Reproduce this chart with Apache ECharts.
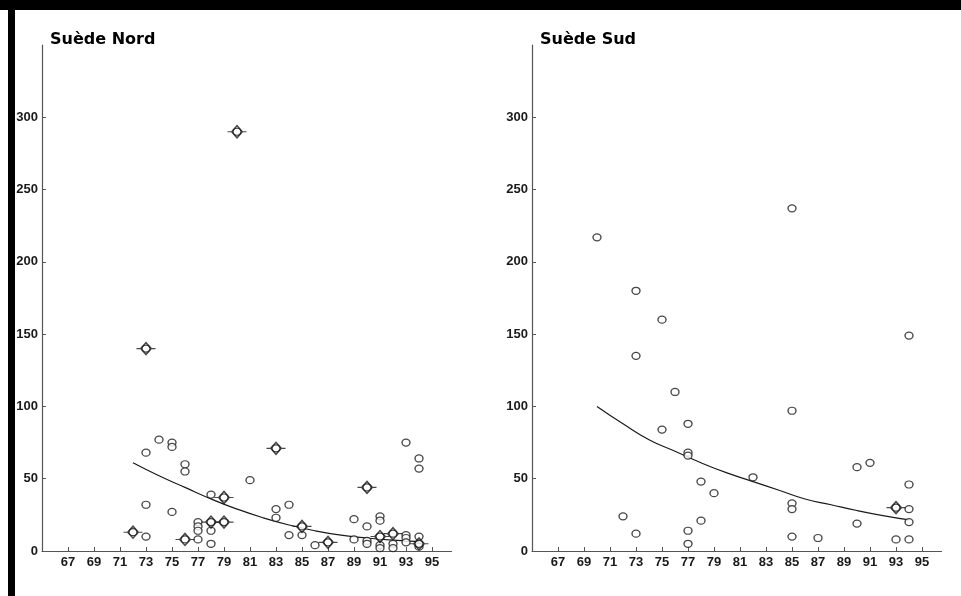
<!DOCTYPE html>
<html>
<head>
<meta charset="utf-8">
<script src="https://cdn.jsdelivr.net/npm/echarts@6/dist/echarts.min.js"></script>
<style>
  html, body { margin: 0; padding: 0; background: #fff; }
  #chart { width: 961px; height: 596px; }
</style>
</head>
<body>
<div id="chart"></div>
<script>
const panelTitles = ["Suède Nord", "Suède Sud"];
const yearTicks = [67, 69, 71, 73, 75, 77, 79, 81, 83, 85, 87, 89, 91, 93, 95];
const valueTicks = [0, 50, 100, 150, 200, 250, 300];

// Suède Nord: plain observations [year, value]
const nordCircles = [
  [73, 68], [73, 32], [73, 10], [74, 77], [75, 75], [75, 72], [75, 27],
  [76, 60], [76, 55], [77, 20], [77, 17], [77, 14], [77, 8],
  [78, 39], [78, 14], [78, 5], [81, 49], [83, 29], [83, 23],
  [84, 32], [84, 11], [85, 11], [86, 4], [89, 22], [89, 8],
  [90, 17], [90, 7], [90, 5], [91, 24], [91, 21], [91, 4], [91, 2],
  [92, 5], [92, 2], [93, 75], [93, 11], [93, 9], [93, 6],
  [94, 64], [94, 57], [94, 10], [94, 3]
];
// Suède Nord: flagged observations (diamonds)
const nordDiamonds = [
  [72, 13], [73, 140], [76, 8], [78, 20], [79, 37], [79, 20], [80, 290],
  [83, 71], [85, 17], [87, 6], [90, 44], [91, 10], [92, 12], [94, 5]
];
// Suède Nord: fitted trend
const nordTrend = [
  [72, 61], [74, 52], [76, 44], [78, 36], [80, 29], [82, 23], [84, 18],
  [86, 14], [88, 11], [90, 9], [92, 7.5], [94, 6.5]
];

// Suède Sud
const sudCircles = [
  [70, 217], [72, 24], [73, 180], [73, 135], [73, 12], [75, 160], [75, 84],
  [76, 110], [77, 88], [77, 68], [77, 66], [77, 14], [77, 5],
  [78, 48], [78, 21], [79, 40], [82, 51], [85, 237], [85, 97],
  [85, 33], [85, 29], [85, 10], [87, 9], [90, 58], [90, 19], [91, 61],
  [93, 8], [94, 149], [94, 46], [94, 29], [94, 20], [94, 8]
];
const sudDiamonds = [[93, 30]];
const sudTrend = [
  [70, 100], [72, 88], [74, 77], [76, 69], [78, 61], [80, 54], [82, 48],
  [84, 42], [86, 36], [88, 32], [90, 28], [92, 24.5], [94, 21.5]
];

const chart = echarts.init(document.getElementById("chart"), null, { renderer: "canvas" });

const ink = "#1a1a1a";
const diamondPath = "path://M-4,5 L0,5 L5,0 L10,5 L14,5 M10,5 L5,10 L0,5";

function makeXAxis(gridIndex) {
  return {
    gridIndex: gridIndex,
    type: "value",
    min: 65,
    max: 96.5,
    splitLine: { show: false },
    axisLine: { show: true, onZero: false, lineStyle: { color: "#555", width: 1.2 } },
    axisTick: { show: true, inside: true, length: 4, customValues: yearTicks, lineStyle: { color: "#555" } },
    axisLabel: {
      customValues: yearTicks,
      margin: 5,
      color: ink,
      fontFamily: "Liberation Sans",
      fontWeight: "bold",
      fontSize: 13,
    },
  };
}

function makeYAxis(gridIndex) {
  return {
    gridIndex: gridIndex,
    type: "value",
    min: 0,
    max: 350,
    splitLine: { show: false },
    axisLine: { show: true, lineStyle: { color: "#555", width: 1.2 } },
    axisTick: { show: true, inside: true, length: 4, customValues: valueTicks, lineStyle: { color: "#555" } },
    axisLabel: {
      customValues: valueTicks,
      margin: 4,
      color: ink,
      fontFamily: "Liberation Sans",
      fontWeight: "bold",
      fontSize: 13,
    },
  };
}

function panelSeries(i, circles, diamonds, trend) {
  return [
    {
      type: "line",
      xAxisIndex: i,
      yAxisIndex: i,
      data: trend,
      smooth: true,
      showSymbol: false,
      lineStyle: { color: ink, width: 1.2 },
      z: 2,
    },
    {
      type: "scatter",
      xAxisIndex: i,
      yAxisIndex: i,
      data: circles.concat(diamonds),
      symbol: "circle",
      symbolSize: [8, 7],
      itemStyle: { color: "#fff", borderColor: ink, borderWidth: 1.3 },
      z: 3,
    },
    {
      type: "scatter",
      xAxisIndex: i,
      yAxisIndex: i,
      data: diamonds,
      symbol: diamondPath,
      symbolSize: [19, 12],
      symbolKeepAspect: false,
      itemStyle: { color: "transparent", borderColor: ink, borderWidth: 1.4 },
      z: 4,
    },
  ];
}

const option = {
  backgroundColor: "#fff",
  animation: false,
  title: [
    {
      text: panelTitles[0],
      left: 45,
      top: 27,
      textStyle: { fontFamily: "DejaVu Sans", fontWeight: "bold", fontSize: 16, color: "#000" },
    },
    {
      text: panelTitles[1],
      left: 535,
      top: 27,
      textStyle: { fontFamily: "DejaVu Sans", fontWeight: "bold", fontSize: 16, color: "#000" },
    },
  ],
  grid: [
    { left: 42, top: 45, width: 409.5, height: 506, containLabel: false },
    { left: 532, top: 45, width: 409.5, height: 506, containLabel: false },
  ],
  xAxis: [makeXAxis(0), makeXAxis(1)],
  yAxis: [makeYAxis(0), makeYAxis(1)],
  series: panelSeries(0, nordCircles, nordDiamonds, nordTrend)
    .concat(panelSeries(1, sudCircles, sudDiamonds, sudTrend)),
  graphic: [
    // scanned page frame
    { type: "rect", shape: { x: 0, y: 0, width: 961, height: 10 }, style: { fill: "#000" } },
    { type: "rect", shape: { x: 8, y: 0, width: 7, height: 596 }, style: { fill: "#000" } },
  ],
};

chart.setOption(option);
</script>
</body>
</html>
